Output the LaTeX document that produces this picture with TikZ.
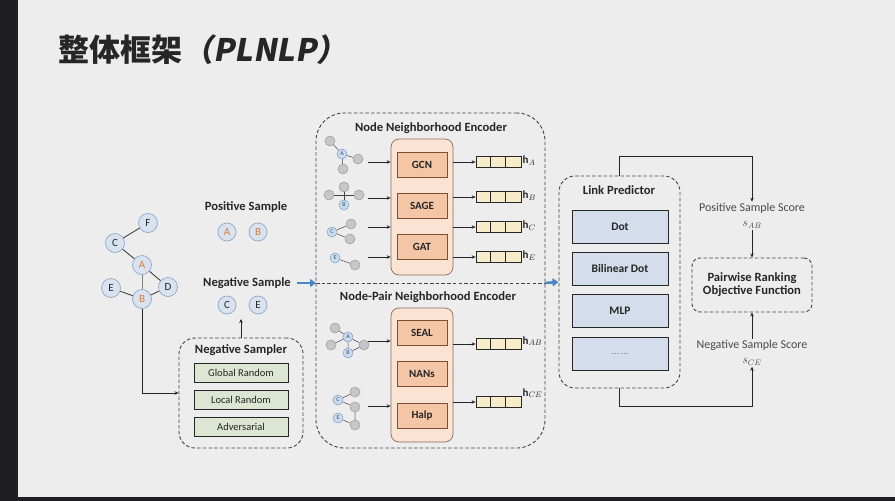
\documentclass[tikz,border=0pt]{standalone}
\usepackage{fontspec}
\setmainfont{Carlito}
\newfontfamily\cjk{Noto Sans CJK SC}
\newfontfamily\cjksl[FakeSlant=0.18]{Noto Sans CJK SC}
\usetikzlibrary{arrows.meta}
\definecolor{bg}{HTML}{EDEDED}
\definecolor{frame}{HTML}{1F1F23}
\definecolor{nodefill}{HTML}{D8E3EF}
\definecolor{nodedraw}{HTML}{8FA8C6}
\definecolor{orng}{HTML}{E07B39}
\definecolor{txt}{HTML}{262626}
\definecolor{dline}{HTML}{444444}
\definecolor{greenfill}{HTML}{DCE6D2}
\definecolor{orfill}{HTML}{FBE3D3}
\definecolor{ordraw}{HTML}{8A6A58}
\definecolor{salmon}{HTML}{F4C6A6}
\definecolor{brown}{HTML}{7E4E34}
\definecolor{vecfill}{HTML}{F6ECC9}
\definecolor{lpfill}{HTML}{D3DDEB}
\definecolor{grayn}{HTML}{C6C6C6}
\definecolor{grayd}{HTML}{9A9A9A}
\definecolor{bluen}{HTML}{C9DBEE}
\definecolor{blued}{HTML}{7D9CC4}
\definecolor{arrowblue}{HTML}{4A86C5}
\definecolor{scoretxt}{HTML}{4A4A4A}
\begin{document}
\begin{tikzpicture}[x=1pt,y=-1pt,
  gn/.style={circle,draw=nodedraw,fill=nodefill,line width=0.7pt,minimum size=19pt,inner sep=0pt,font=\fontsize{11}{12}\selectfont,text=txt},
  lbl/.style={font=\bfseries\fontsize{12.6}{14}\selectfont,text=txt,inner sep=1pt},
  sclbl/.style={font=\fontsize{12}{13}\selectfont,text=scoretxt,inner sep=1pt},
  dbox/.style={draw=dline,dash pattern=on 3.5pt off 2.2pt,line width=0.9pt},
  gbox/.style={draw=txt,fill=greenfill,line width=0.8pt,minimum width=94pt,minimum height=19pt,inner sep=0pt,font=\fontsize{10.5}{11}\selectfont,text=txt},
  obox/.style={draw=ordraw,fill=orfill,line width=0.7pt,rounded corners=8pt,minimum width=62pt},
  mbox/.style={draw=brown,fill=salmon,line width=0.8pt,minimum width=50pt,minimum height=25pt,inner sep=0pt,font=\bfseries\fontsize{11}{12}\selectfont,text=txt},
  lpbox/.style={draw=txt,fill=lpfill,line width=0.8pt,minimum width=96pt,minimum height=33pt,inner sep=0pt,font=\bfseries\fontsize{11.5}{12}\selectfont,text=txt},
  vec/.style={draw=txt,fill=vecfill,line width=0.8pt,minimum width=45pt,minimum height=11pt,inner sep=0pt},
  mg/.style={circle,draw=grayd,fill=grayn,line width=0.5pt,minimum size=10pt,inner sep=0pt},
  mb/.style={circle,draw=blued,fill=bluen,line width=0.5pt,minimum size=10pt,inner sep=0pt,font=\fontsize{6}{6}\selectfont,text=blued!50!black},
  arr/.style={draw=txt,line width=0.7pt,-{Stealth[length=4pt,width=3.5pt]}},
  barr/.style={draw=arrowblue,line width=2.6pt,-{Triangle[length=6pt,width=8pt]}},
  medge/.style={draw=dline,line width=0.5pt},
  hl/.style={anchor=west,font=\fontsize{11}{12}\selectfont,text=txt,inner sep=1pt}
]
\useasboundingbox (0,0) rectangle (895,501);
\fill[bg] (0,0) rectangle (895,501);
\fill[frame] (0,0) rectangle (18,501);
\fill[frame] (0,497) rectangle (895,501);

% title
\node[anchor=west,inner sep=0pt,text=txt] (title) at (58,50) {\fontsize{31}{34}\selectfont\cjk\bfseries 整体框架\cjksl（PLNLP）};

% graph
\node[gn] (F) at (148,223) {F};
\node[gn] (C) at (115,243) {C};
\node[gn] (A) at (142,265) {\color{orng}A};
\node[gn] (E) at (111,288) {E};
\node[gn] (D) at (168,287) {D};
\node[gn] (B) at (142,299) {\color{orng}B};
\draw[dline,line width=0.9pt] (F)--(C) (C)--(A) (A)--(D) (E)--(B) (B)--(D);
\draw[gray,line width=0.9pt] (A)--(B);

% samples
\node[lbl] (posT) at (246,207) {Positive Sample};
\node[gn,minimum size=18pt] (pA) at (227,232) {\color{orng}A};
\node[gn,minimum size=18pt] (pB) at (258,232) {\color{orng}B};
\node[lbl] (negT) at (247,283) {Negative Sample};
\node[gn,minimum size=18pt] (nC) at (227,305) {C};
\node[gn,minimum size=18pt] (nE) at (258,305) {E};

% negative sampler
\node[dbox,rounded corners=16pt,minimum width=124pt,minimum height=110pt] (ns) at (241,393) {};
\node[lbl] (nsT) at (241,350) {Negative Sampler};
\node[gbox] (gr) at (241,372.5) {Global Random};
\node[gbox] (lr) at (241,399.5) {Local Random};
\node[gbox] (adv) at (241,427) {Adversarial};
\draw[arr] (B.south) |- (ns.west);
\coordinate (nsTip) at (241,319);
\draw[arr] (ns.north) -- (nsTip);

% encoder
\node[dbox,rounded corners=28pt,minimum width=229pt,minimum height=335pt] (enc) at (430.5,280.5) {};
\coordinate (divL) at (316,283);
\coordinate (divR) at (545,283);
\draw[dline,dash pattern=on 3.5pt off 2.2pt,line width=0.9pt] (divL) -- (divR);
\node[lbl] (encT1) at (431,128) {Node Neighborhood Encoder};
\node[lbl] (encT2) at (428,297) {Node-Pair Neighborhood Encoder};
\node[obox,minimum height=136pt] (ob1) at (422,207) {};
\node[obox,minimum height=134pt] (ob2) at (422,375) {};
\node[mbox] (gcn) at (422,164.5) {GCN};
\node[mbox] (sage) at (422,206) {SAGE};
\node[mbox] (gat) at (422,246.5) {GAT};
\node[mbox] (seal) at (422,332.5) {SEAL};
\node[mbox] (nans) at (422,374) {NANs};
\node[mbox] (halp) at (422,415.5) {Halp};

% vectors
\foreach \nm/\yy in {vA/162,vB/197,vC/227,vE/257,vAB/344,vCE/402}{
  \node[vec] (\nm) at (498.5,\yy) {};
  \draw[txt,line width=0.8pt] ([xshift=15pt]\nm.north west) -- ([xshift=15pt]\nm.south west)
        ([xshift=30pt]\nm.north west) -- ([xshift=30pt]\nm.south west);
  \draw[arr] (\nm.west -| ob1.east) -- (\nm.west);
}
\node[hl] at ([yshift=1.5pt]vA.east) {$\mathbf{h}_{A}$};
\node[hl] at ([yshift=1.5pt]vB.east) {$\mathbf{h}_{B}$};
\node[hl] at ([yshift=1.5pt]vC.east) {$\mathbf{h}_{C}$};
\node[hl] at ([yshift=1.5pt]vE.east) {$\mathbf{h}_{E}$};
\node[hl] at ([yshift=3pt]vAB.east) {$\mathbf{h}_{AB}$};
\node[hl] at ([yshift=9pt]vCE.east) {$\mathbf{h}_{CE}$};

% input arrows
\foreach \nm/\yy in {i1/162,i2/198,i3/227,i4/257,i5/341,i6/406}{
  \coordinate (\nm) at (368,\yy);
  \draw[arr] (\nm) -- (\nm -| ob1.west);
}

% mini graphs
\node[mb] (ma) at (342,154) {A};
\node[mg] (ma1) at (330,141) {};
\node[mg] (ma2) at (358,159) {};
\node[mg] (ma3) at (343,169) {};
\draw[medge] (ma)--(ma1) (ma)--(ma2) (ma)--(ma3);
\node[mb] (mbn) at (344,205) {B};
\node[mg] (mb1) at (344,187) {};
\node[mg] (mb2) at (329,195) {};
\node[mg] (mb3) at (359,195) {};
\draw[medge] (mbn)--(mb1) (mb2)--(mb3);
\node[mb] (mc) at (332,232) {C};
\node[mg] (mc1) at (351,224) {};
\node[mg] (mc2) at (350,239) {};
\draw[medge] (mc)--(mc1) (mc)--(mc2);
\node[mb] (me) at (335,258) {E};
\node[mg] (me1) at (355,265) {};
\draw[medge] (me)--(me1);

\node[mg] (pa1) at (335,328) {};
\node[mb] (pa) at (348,337) {A};
\node[mg] (pa2) at (331,345) {};
\node[mb] (pb) at (348,353) {B};
\node[mg] (pa3) at (364,345) {};
\draw[medge] (pa1)--(pa) (pa)--(pb) (pa)--(pa3) (pb)--(pa3) (pa2)--(pa);
\node[mb] (pc) at (338,400) {C};
\node[mg] (pc1) at (355,392) {};
\node[mg] (pc2) at (355,407) {};
\node[mb] (pe) at (338,418) {E};
\node[mg] (pe1) at (355,425) {};
\draw[medge] (pc)--(pc1) (pc)--(pc2) (pe)--(pe1) (pc2)--(pe1);

% link predictor
\node[dbox,rounded corners=16pt,minimum width=121pt,minimum height=212pt] (lp) at (619.5,282) {};
\node[lbl] (lpT) at (619,190) {Link Predictor};
\node[lpbox] (dot) at (620,226.5) {Dot};
\node[lpbox] (bil) at (620,269) {Bilinear Dot};
\node[lpbox] (mlp) at (620,311) {MLP};
\node[lpbox,font=\fontsize{10}{10}\selectfont,text=gray] (etc) at (620,354) {\dots\ \dots};

% blue arrows
\coordinate (bst) at (297,283);
\draw[barr] (bst) -- (divL);
\draw[barr] (divR) -- (lp.west);

% objective
\node[dbox,rounded corners=8pt,minimum width=120pt,minimum height=54pt,align=center,font=\bfseries\fontsize{12.6}{13}\selectfont,text=txt] (obj) at (752,285) {Pairwise Ranking\\Objective Function};
\node[sclbl] (posS) at (752,208) {Positive Sample Score};
\node[sclbl] (sAB) at (752,225) {$s_{AB}$};
\node[sclbl] (negS) at (752,345) {Negative Sample Score};
\node[sclbl] (sCE) at (752,362) {$s_{CE}$};
\coordinate (topc) at (752,156);
\coordinate (botc) at (752,406);
\draw[arr] (lp.north) |- (topc) -- (posS.north);
\draw[arr] (sAB.south) -- (obj.north);
\draw[arr] (negS.north) -- (obj.south);
\draw[arr] (lp.south) |- (botc) -- (sCE.south);
\end{tikzpicture}
\end{document}
